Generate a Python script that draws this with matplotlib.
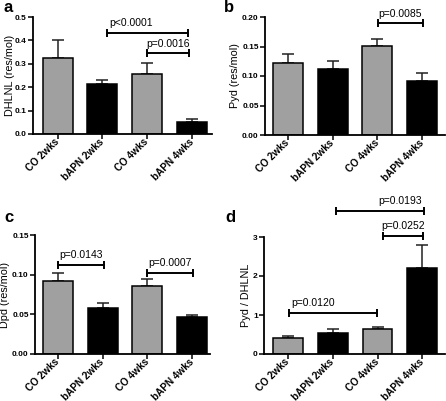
import matplotlib
matplotlib.use('Agg')
import matplotlib.pyplot as plt
import matplotlib.transforms as mtransforms

plt.rcParams['font.family'] = ['Liberation Sans', 'DejaVu Sans']

groups = ["CO 2wks", "bAPN 2wks", "CO 4wks", "bAPN 4wks"]
bar_colors = ["#a0a0a0", "#000000", "#a0a0a0", "#000000"]

dhlnl_mean = [0.326, 0.214, 0.255, 0.051]
dhlnl_err = [0.076, 0.015, 0.047, 0.012]
pyd_mean = [0.1215, 0.112, 0.151, 0.0915]
pyd_err = [0.0165, 0.014, 0.012, 0.014]
dpd_mean = [0.092, 0.058, 0.0855, 0.0466]
dpd_err = [0.010, 0.0066, 0.0085, 0.003]
ratio_mean = [0.42, 0.55, 0.644, 2.2]
ratio_err = [0.046, 0.086, 0.056, 0.59]

# comparisons: (x start, x end, bracket height, label, text alignment)
dhlnl_p = [(1.1, 2.92, 0.433, "p<0.0001", "left"),
           (1.99, 2.94, 0.345, "p=0.0016", "center")]
pyd_p = [(2.01, 3.02, 0.189, "p=0.0085", "center")]
dpd_p = [(0.01, 1.03, 0.112, "p=0.0143", "center"),
         (1.99, 3.02, 0.102, "p=0.0007", "center")]
ratio_p = [(0.02, 1.99, 1.06, "p=0.0120", "left"),
           (2.12, 3.02, 3.03, "p=0.0252", "center"),
           (1.07, 3.04, 3.67, "p=0.0193", "right")]

W, H = 446.0, 401.0
fig = plt.figure(figsize=(4.46, 4.01), dpi=100)


def make_panel(box, letter, letter_xy, means, errs, ylim, yticks, yfmt,
               xlim, ylabel, label_x, comps):
    left, right, top, bottom = box
    ax = fig.add_axes([left / W, 1 - bottom / H, (right - left) / W, (bottom - top) / H])
    xs = range(len(groups))
    ax.bar(xs, means, width=0.67, color=bar_colors, edgecolor="black",
           linewidth=1.1, zorder=2)
    ax.errorbar(xs, means, yerr=[[0] * len(errs), errs], fmt="none",
                ecolor="#222222", elinewidth=1.1, capsize=4.5, capthick=1.1, zorder=1)
    ax.set_xlim(xlim)
    ax.set_ylim(ylim)
    ax.set_yticks(yticks)
    ax.set_yticklabels([yfmt % v for v in yticks], fontsize=6, fontweight="bold")
    ax.set_xticks(list(xs))
    ax.set_xticklabels(groups, rotation=45, ha="right", va="center",
                       rotation_mode="anchor", fontsize=7.2, fontweight="bold")
    offset = mtransforms.ScaledTranslation(8 / 100, -5 / 100, fig.dpi_scale_trans)
    for lab in ax.get_xticklabels():
        lab.set_transform(lab.get_transform() + offset)
    for s in ["top", "right"]:
        ax.spines[s].set_visible(False)
    for s in ["left", "bottom"]:
        ax.spines[s].set_linewidth(1.3)
    ax.tick_params(direction="out", length=3.5, width=1.1, pad=1)
    ax.set_ylabel(ylabel, fontsize=7.8)
    ax.yaxis.set_label_coords(label_x, 0.5)
    for x1, x2, y, txt, al in comps:
        ax.plot([x1, x2], [y, y], color="black", lw=1.4, marker="|",
                ms=6, mew=1.4, clip_on=False, zorder=3)
        if al == "left":
            tx = x1 + 0.05
        elif al == "right":
            tx = x2 - 0.05
        else:
            tx = (x1 + x2) / 2
        ax.annotate(txt, (tx, y), xytext=(0, 7), textcoords="offset points",
                    ha=al, va="center", fontsize=7.5, annotation_clip=False)
    fig.text(letter_xy[0] / W, 1 - letter_xy[1] / H, letter, fontsize=12,
             fontweight="bold", ha="left", va="center")
    return ax


make_panel((33, 212, 17, 134), "a", (3, 8), dhlnl_mean, dhlnl_err,
           (0, 0.5), [0.0, 0.1, 0.2, 0.3, 0.4, 0.5], "%.1f",
           (-0.55, 3.45), "DHLNL (res/mol)", -0.10, dhlnl_p)
make_panel((265, 445, 17, 135), "b", (224, 8), pyd_mean, pyd_err,
           (0, 0.2), [0.0, 0.05, 0.10, 0.15, 0.20], "%.2f",
           (-0.515, 3.51), "Pyd (res/mol)", -0.14, pyd_p)
make_panel((35, 210, 235, 354), "c", (4, 218), dpd_mean, dpd_err,
           (0, 0.15), [0.0, 0.05, 0.10, 0.15], "%.2f",
           (-0.51, 3.4), "Dpd (res/mol)", -0.145, dpd_p)
make_panel((264, 445, 237, 354), "d", (225, 218), ratio_mean, ratio_err,
           (0, 3), [0, 1, 2, 3], "%d",
           (-0.54, 3.51), "Pyd / DHLNL", -0.07, ratio_p)

fig.savefig("out.png", dpi=100)
